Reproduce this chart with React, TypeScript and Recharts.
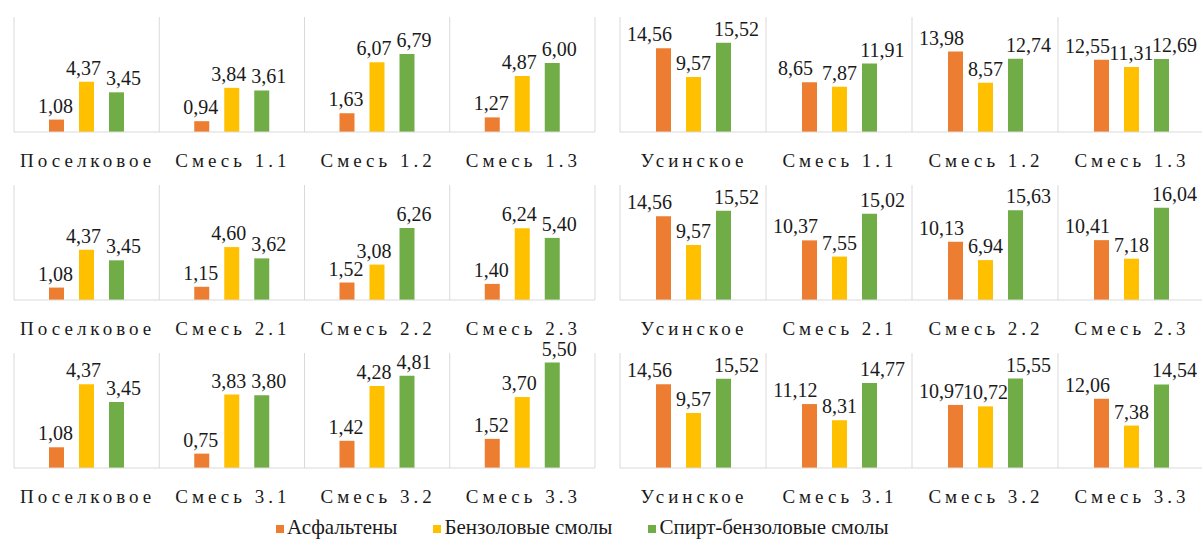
import { BarChart, Bar, XAxis, YAxis, LabelList, ReferenceLine } from "recharts";

const seriesNames = ["Асфальтены", "Бензоловые смолы", "Спирт-бензоловые смолы"];
const seriesColors = ["#ED7D31", "#FFC000", "#70AD47"];

// row 1
const cats1L = ["Поселковое", "Смесь 1.1", "Смесь 1.2", "Смесь 1.3"];
const asph1L = [1.08, 0.94, 1.63, 1.27];
const benz1L = [4.37, 3.84, 6.07, 4.87];
const spirt1L = [3.45, 3.61, 6.79, 6.0];

const cats1R = ["Усинское", "Смесь 1.1", "Смесь 1.2", "Смесь 1.3"];
const asph1R = [14.56, 8.65, 13.98, 12.55];
const benz1R = [9.57, 7.87, 8.57, 11.31];
const spirt1R = [15.52, 11.91, 12.74, 12.69];

// row 2
const cats2L = ["Поселковое", "Смесь 2.1", "Смесь 2.2", "Смесь 2.3"];
const asph2L = [1.08, 1.15, 1.52, 1.4];
const benz2L = [4.37, 4.6, 3.08, 6.24];
const spirt2L = [3.45, 3.62, 6.26, 5.4];

const cats2R = ["Усинское", "Смесь 2.1", "Смесь 2.2", "Смесь 2.3"];
const asph2R = [14.56, 10.37, 10.13, 10.41];
const benz2R = [9.57, 7.55, 6.94, 7.18];
const spirt2R = [15.52, 15.02, 15.63, 16.04];

// row 3
const cats3L = ["Поселковое", "Смесь 3.1", "Смесь 3.2", "Смесь 3.3"];
const asph3L = [1.08, 0.75, 1.42, 1.52];
const benz3L = [4.37, 3.83, 4.28, 3.7];
const spirt3L = [3.45, 3.8, 4.81, 5.5];

const cats3R = ["Усинское", "Смесь 3.1", "Смесь 3.2", "Смесь 3.3"];
const asph3R = [14.56, 11.12, 10.97, 12.06];
const benz3R = [9.57, 8.31, 10.72, 7.38];
const spirt3R = [15.52, 14.77, 15.55, 14.54];

const FONT = "Liberation Serif, DejaVu Serif, Tinos, Times New Roman, serif";
const GRID = "#d9d9d9";

const fmt = (v: number) => Number(v).toFixed(2).replace(".", ",");

const makeLabel = (dx: number) => (props: any) => {
  const x = Number(props.x);
  const y = Number(props.y);
  const w = Number(props.width);
  return (
    <text
      x={x + w / 2 + dx}
      y={y - 7}
      textAnchor="middle"
      style={{ fontFamily: FONT, fontSize: 20 }}
      fill="#1a1a1a"
    >
      {fmt(props.value)}
    </text>
  );
};

const CatTick = (props: any) => {
  const { x, y, payload } = props;
  return (
    <text
      x={Number(x) + 1}
      y={Number(y) + 35}
      textAnchor="middle"
      style={{ fontFamily: FONT, fontSize: 19, letterSpacing: 4 }}
      fill="#1a1a1a"
    >
      {payload.value}
    </text>
  );
};

type PanelProps = {
  cats: string[];
  a: number[];
  b: number[];
  c: number[];
  max: number;
  right?: boolean;
  top: number;
};

function Panel({ cats, a, b, c, max, right, top }: PanelProps) {
  const data = cats.map((name, i) => ({ name, asph: a[i], benz: b[i], spirt: c[i] }));
  const dxs = right ? [-14, 0, 13] : [-1, -3, 7];
  return (
    <div style={{ position: "absolute", left: right ? 600 : 0, top }}>
      <BarChart
        width={right ? 604 : 600}
        height={170}
        data={data}
        margin={{ top: 17, right: right ? 0 : 5, left: right ? 20 : 14, bottom: 0 }}
        barSize={15}
        barGap={15}
        style={{ overflow: "visible" }}
      >
        <XAxis
          dataKey="name"
          interval={0}
          height={38}
          tickLine={false}
          tickSize={0}
          tickMargin={0}
          axisLine={{ stroke: GRID }}
          tick={CatTick}
        />
        <YAxis hide domain={[0, max]} />
        {cats.map((cat) => (
          <ReferenceLine key={cat} x={cat} position="start" stroke={GRID} />
        ))}
        <ReferenceLine x={cats[cats.length - 1]} position="end" stroke={GRID} />
        {(["asph", "benz", "spirt"] as const).map((key, i) => (
          <Bar key={key} dataKey={key} name={seriesNames[i]} fill={seriesColors[i]} isAnimationActive={false}>
            <LabelList dataKey={key} content={makeLabel(dxs[i])} />
          </Bar>
        ))}
      </BarChart>
    </div>
  );
}

export default function App() {
  return (
    <div
      style={{
        position: "absolute",
        left: 0,
        top: 0,
        width: 1202,
        height: 539,
        background: "#fff",
        overflow: "hidden",
        fontFamily: FONT,
      }}
    >
      <Panel cats={cats1L} a={asph1L} b={benz1L} c={spirt1L} max={10} top={0} />
      <Panel cats={cats1R} a={asph1R} b={benz1R} c={spirt1R} max={20} right top={0} />
      <Panel cats={cats2L} a={asph2L} b={benz2L} c={spirt2L} max={10} top={168} />
      <Panel cats={cats2R} a={asph2R} b={benz2R} c={spirt2R} max={20} right top={168} />
      <Panel cats={cats3L} a={asph3L} b={benz3L} c={spirt3L} max={6} top={336} />
      <Panel cats={cats3R} a={asph3R} b={benz3R} c={spirt3R} max={20} right top={336} />
      <div
        style={{
          position: "absolute",
          left: 276,
          top: 514,
          display: "flex",
          alignItems: "center",
          gap: 36,
          fontSize: 21,
          color: "#1a1a1a",
          lineHeight: "26px",
        }}
      >
        {seriesNames.map((name, i) => (
          <div key={name} style={{ display: "flex", alignItems: "center" }}>
            <span
              style={{
                display: "inline-block",
                width: 8,
                height: 8,
                background: seriesColors[i],
                marginRight: 3,
                marginTop: 4,
              }}
            />
            <span>{name}</span>
          </div>
        ))}
      </div>
    </div>
  );
}
